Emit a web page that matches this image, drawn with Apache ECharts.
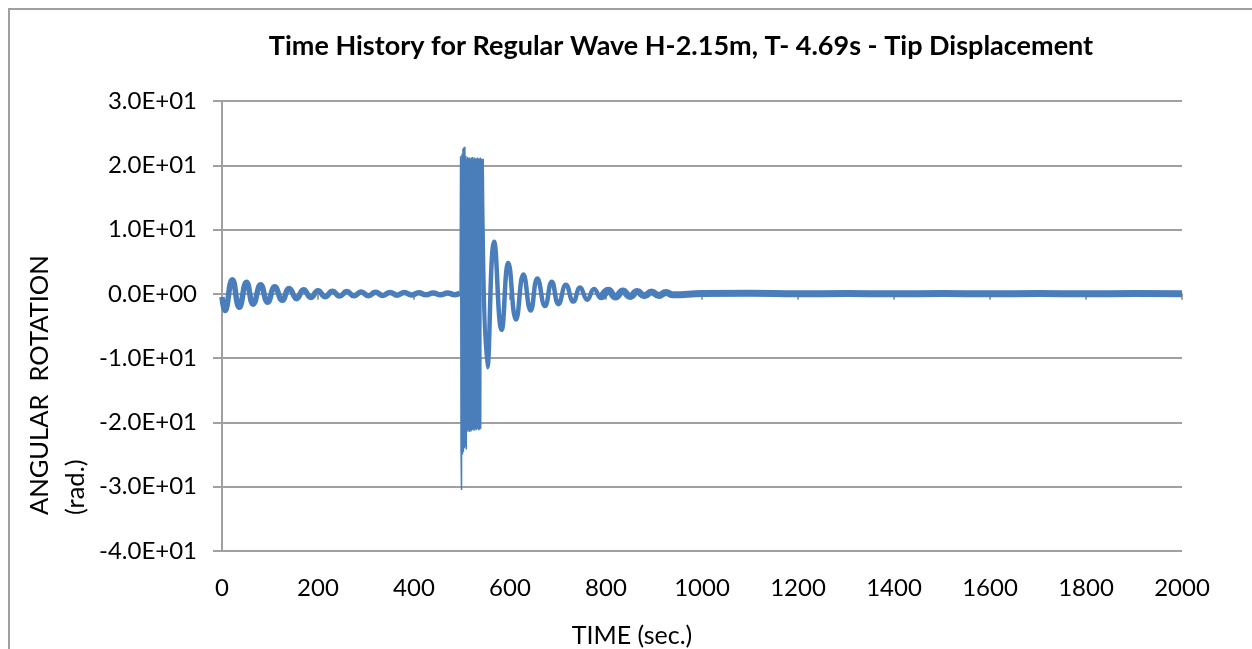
<!DOCTYPE html>
<html>
<head>
<meta charset="utf-8">
<script src="https://cdn.jsdelivr.net/npm/echarts@6/dist/echarts.min.js"></script>
<style>
  html, body { margin: 0; padding: 0; background: #fff; }
  #chart { width: 1252px; height: 649px; }
</style>
</head>
<body>
<div id="chart"></div>
<script>
// time history
const preTime = [0, 6, 21.5, 36, 51, 65, 80.5, 95, 110, 125.5, 140, 155.5, 170, 185, 200, 215, 230, 245, 260, 275,
  290, 305, 320, 335, 350, 365, 380, 395, 410, 425, 440, 455, 470, 485, 496];
const preValue = [-0.5, -2.6, 2.2, -2.1, 1.8, -1.6, 1.4, -1.3, 1.1, -1.0, 0.85, -0.75, 0.65, -0.55, 0.5, -0.45, 0.4, -0.35, 0.35, -0.3,
  0.3, -0.28, 0.25, -0.25, 0.22, -0.2, 0.2, -0.18, 0.18, -0.15, 0.15, -0.15, 0.12, -0.12, 0.1];

const burstTime = [496, 497, 498, 499, 500, 501, 502, 503, 504, 505, 506, 507, 508, 509, 510, 511, 512, 513, 514, 515,
  516, 517, 518, 519, 520, 521, 522, 523, 524, 525, 526, 527, 528, 529, 530, 531, 532, 533, 534, 535,
  536, 537, 538, 539, 540, 541];
const burstValue = [0.1, 21.4, -24.3, -30.5, 21.8, -25.0, 22.6, -24.6, 22.8, -24.0, 22.9, -23.8, 21.5, -24.2, 21.0, -21.4, 21.3, -21.2, 21.1, -21.5,
  21.2, -21.3, 21.0, -21.4, 21.2, -21.2, 21.3, -21.1, 21.0, -21.3, 21.2, -21.0, 21.1, -21.2, 21.0, -21.1, 21.2, -21.0, 21.1, -21.2,
  21.0, -21.1, 21.2, -21.0, 20.9, 21.0];

const postTime = [541, 553, 567, 582.5, 596.5, 612.5, 628, 643, 657, 673, 687, 701, 716.5, 732, 746, 761, 775, 790, 805];
const postValue = [21.0, -11.4, 8.1, -5.6, 4.8, -4.0, 3.0, -2.6, 2.4, -1.9, 1.9, -1.6, 1.4, -1.2, 1.0, -0.9, 0.75, -0.65, 0.55];

const tailTime = [790, 805, 820, 835, 850, 865, 880, 895, 910, 925, 940, 1000, 1100, 1200, 1300, 1400, 1500, 1600, 1700, 1800,
  1900, 2000];
const tailValue = [-0.65, 0.55, -0.5, 0.45, -0.4, 0.35, -0.3, 0.28, -0.25, 0.2, -0.15, 0.05, 0.1, 0.0, 0.05, 0.0, 0.05, 0.0, 0.05, 0.0,
  0.05, 0.0];

const xTicks = { min: 0, max: 2000, step: 200 };
const yTicks = { min: -40, max: 30, step: 10 };

const FONT = 'Lato';
const GRID_GRAY = '#a0a0a0';
const LINE_BLUE = '#4a7ebb';

function pairs(xs, ys) {
  return xs.map((x, i) => [x, ys[i]]);
}

// Excel-like scientific label, e.g. -2.0E+01
function sci(v) {
  if (v === 0) return '0.0E+00';
  const [m, e] = v.toExponential(1).split('e');
  const n = Math.abs(parseInt(e, 10));
  return m + 'E' + (e[0] === '-' ? '-' : '+') + String(n).padStart(2, '0');
}

const chart = echarts.init(document.getElementById('chart'));

const option = {
  animation: false,
  grid: { left: 222, top: 101, width: 960, height: 450 },
  xAxis: [
    {
      type: 'value', min: xTicks.min, max: xTicks.max, interval: xTicks.step,
      position: 'bottom',
      axisLine: { show: true, onZero: true, lineStyle: { color: GRID_GRAY, width: 2 } },
      axisTick: { show: true, length: 6, lineStyle: { color: GRID_GRAY, width: 2 } },
      axisLabel: { show: false },
      splitLine: { show: false }
    },
    {
      type: 'value', min: xTicks.min, max: xTicks.max, interval: xTicks.step,
      position: 'bottom',
      axisLine: { show: false, onZero: false },
      axisTick: { show: false },
      axisLabel: {
        show: true, margin: 25, color: '#000', fontFamily: FONT, fontSize: 24,
        formatter: v => String(v)
      },
      splitLine: { show: false }
    }
  ],
  yAxis: {
    type: 'value', min: yTicks.min, max: yTicks.max, interval: yTicks.step,
    axisLine: { show: true, lineStyle: { color: GRID_GRAY, width: 2 } },
    axisTick: { show: true, length: 9, lineStyle: { color: GRID_GRAY, width: 2 } },
    axisLabel: { margin: 25, color: '#000', fontFamily: FONT, fontSize: 24, formatter: sci },
    splitLine: { show: true, lineStyle: { color: GRID_GRAY, width: 2 } }
  },
  series: [
    {
      type: 'line', name: 'pre', data: pairs(preTime, preValue),
      smooth: true, symbol: 'none',
      lineStyle: { color: LINE_BLUE, width: 5.5 }
    },
    {
      type: 'line', name: 'burst', data: pairs(burstTime, burstValue),
      symbol: 'none',
      lineStyle: { color: LINE_BLUE, width: 1.5 }
    },
    {
      type: 'line', name: 'post', data: pairs(postTime, postValue),
      smooth: true, symbol: 'none',
      lineStyle: { color: LINE_BLUE, width: 4.5 }
    },
    {
      type: 'line', name: 'tail', data: pairs(tailTime, tailValue),
      smooth: true, symbol: 'none',
      lineStyle: { color: LINE_BLUE, width: 7 }
    }
  ],
  graphic: [
    {
      type: 'rect', silent: true,
      shape: { x: 9, y: 9, width: 1400, height: 800 },
      style: { fill: 'none', stroke: GRID_GRAY, lineWidth: 2 }
    },
    {
      type: 'text', x: 681, y: 46,
      style: {
        text: 'Time History for Regular Wave H-2.15m, T- 4.69s - Tip Displacement',
        fill: '#000', font: 'bold 27px ' + FONT, align: 'center', verticalAlign: 'middle'
      }
    },
    {
      type: 'text', x: 632, y: 636,
      style: {
        text: 'TIME (sec.)', fill: '#000', font: '25px ' + FONT,
        align: 'center', verticalAlign: 'middle'
      }
    },
    {
      type: 'text', x: 22, y: 515, rotation: Math.PI / 2,
      style: {
        text: 'ANGULAR  ROTATION\n(rad.)', fill: '#000', font: '25.5px ' + FONT,
        align: 'left', verticalAlign: 'top', lineHeight: 36
      }
    }
  ]
};

chart.setOption(option);
</script>
</body>
</html>
